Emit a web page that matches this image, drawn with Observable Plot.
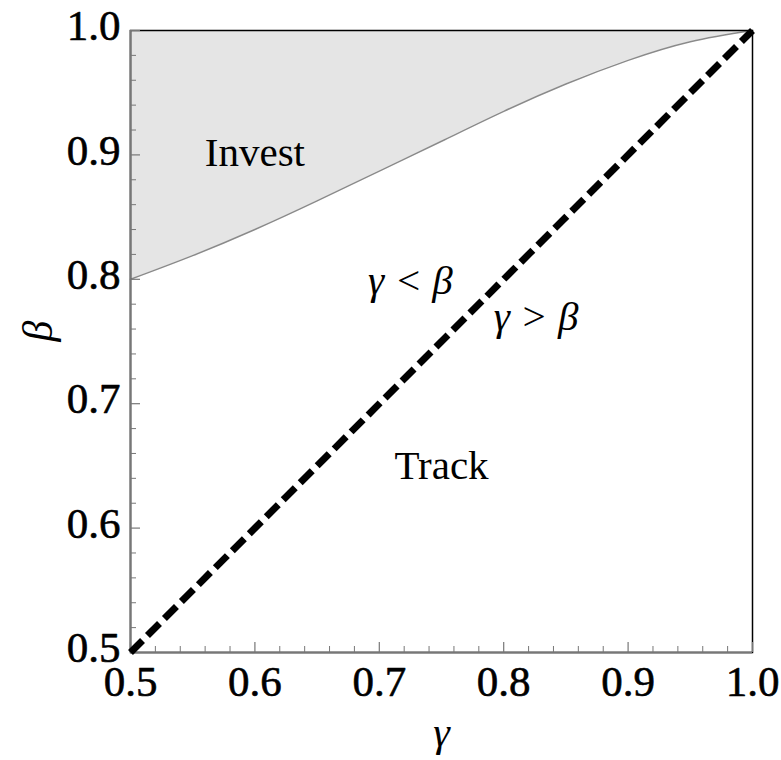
<!DOCTYPE html>
<html>
<head>
<meta charset="utf-8">
<script src="https://cdn.jsdelivr.net/npm/d3@7"></script>
<script src="https://cdn.jsdelivr.net/npm/@observablehq/plot@0.6"></script>
<style>
  html, body { margin: 0; padding: 0; background: #fff; }
  #chart svg { display: block; }
</style>
</head>
<body>
<div id="chart"></div>
<script>
// Boundary curve (gamma -> beta) separating "Invest" and "Track"
const gammaVals = [0.5, 0.55, 0.6, 0.65, 0.7, 0.75, 0.8, 0.85, 0.9, 0.95, 1.0];
const betaVals  = [0.800, 0.819, 0.840, 0.863, 0.887, 0.911, 0.935, 0.957, 0.976, 0.991, 1.000];
// Diagonal gamma = beta
const diagGamma = [0.5, 1.0];
const diagBeta  = [0.5, 1.0];
// Ticks
const majorTicks = [0.5, 0.6, 0.7, 0.8, 0.9, 1.0];
const minorTicks = [0.52,0.54,0.56,0.58,0.62,0.64,0.66,0.68,0.72,0.74,0.76,0.78,0.82,0.84,0.86,0.88,0.92,0.94,0.96,0.98];
const tickLabels = ["0.5", "0.6", "0.7", "0.8", "0.9", "1.0"];
// Region labels
const regionText  = ["Invest", "Track"];
const regionGamma = [0.60, 0.75];
const regionBeta  = [0.902, 0.650];
const ineqText  = ["γ < β", "γ > β"];
const ineqGamma = [0.725, 0.826];
const ineqBeta  = [0.799, 0.770];

const curve = gammaVals.map((g, i) => ({g, b: betaVals[i]}));
const diag = diagGamma.map((g, i) => ({g, b: diagBeta[i]}));
const regions = regionText.map((t, i) => ({t, g: regionGamma[i], b: regionBeta[i]}));
const ineqs = ineqText.map((t, i) => ({t, g: ineqGamma[i], b: ineqBeta[i]}));
const labels = majorTicks.map((v, i) => ({v, t: tickLabels[i]}));

const W = 781, H = 760;
const mL = 130, mR = 29, mT = 30, mB = 108;
const innerW = W - mL - mR, innerH = H - mT - mB;
const serif = "'Liberation Serif', 'DejaVu Serif', serif";
const axisGray = "#777";

const chart = Plot.plot({
  width: W,
  height: H,
  marginLeft: mL, marginRight: mR, marginTop: mT, marginBottom: mB,
  x: {domain: [0.5, 1.0], axis: null},
  y: {domain: [0.5, 1.0], axis: null},
  style: {fontFamily: serif, background: "#fff", overflow: "visible"},
  marks: [
    Plot.areaY(curve, {x: "g", y1: "b", y2: 1, fill: "#e5e5e5", curve: "natural"}),
    Plot.line(curve, {x: "g", y: "b", stroke: "#8a8a8a", strokeWidth: 1.5, curve: "natural"}),
    Plot.frame({stroke: "#000", strokeWidth: 1.5}),
    Plot.ruleY([0.5], {stroke: axisGray, strokeWidth: 2}),
    Plot.ruleX([0.5], {stroke: axisGray, strokeWidth: 2}),
    // inward ticks on the bottom axis
    Plot.tickX(majorTicks, {x: d => d, insetTop: innerH - 10, stroke: axisGray, strokeWidth: 1.2}),
    Plot.tickX(minorTicks, {x: d => d, insetTop: innerH - 6, stroke: axisGray, strokeWidth: 1}),
    // inward ticks on the left axis
    Plot.tickY(majorTicks, {y: d => d, insetRight: innerW - 10, stroke: axisGray, strokeWidth: 1.2}),
    Plot.tickY(minorTicks, {y: d => d, insetRight: innerW - 6, stroke: axisGray, strokeWidth: 1}),
    // diagonal
    Plot.line(diag, {x: "g", y: "b", stroke: "#000", strokeWidth: 7, strokeDasharray: "17,7", strokeLinecap: "butt"}),
    // tick labels
    Plot.text(labels, {x: "v", text: "t", frameAnchor: "bottom", dy: 30, fontSize: 43, fill: "#000", stroke: "#000", strokeWidth: 0.6, lineAnchor: "middle"}),
    Plot.text(labels, {y: "v", text: "t", frameAnchor: "left", dx: -10, dy: -4, textAnchor: "end", fontSize: 43, fill: "#000", stroke: "#000", strokeWidth: 0.6, lineAnchor: "middle"}),
    // region labels
    Plot.text(regions, {x: "g", y: "b", text: "t", fontSize: 41, fill: "#000", lineAnchor: "middle"}),
    Plot.text(ineqs, {x: "g", y: "b", text: "t", fontSize: 41, fontStyle: "italic", fill: "#000", lineAnchor: "middle"}),
    // axis titles
    Plot.text(["β"], {frameAnchor: "left", dx: -92, rotate: -90, fontSize: 42, fontStyle: "italic", fill: "#000", lineAnchor: "middle"}),
    Plot.text(["γ"], {frameAnchor: "bottom", dy: 80, fontSize: 42, fontStyle: "italic", fill: "#000", lineAnchor: "middle"})
  ]
});
document.getElementById("chart").appendChild(chart);
</script>
</body>
</html>
